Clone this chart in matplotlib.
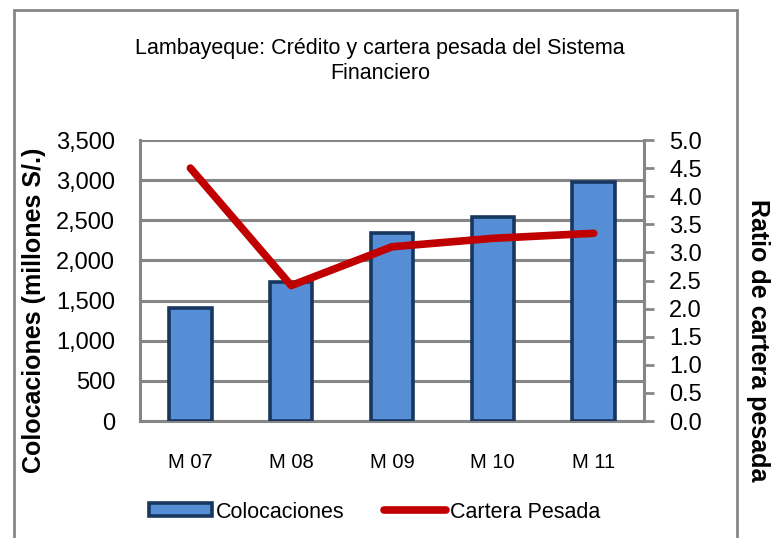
import matplotlib
matplotlib.use("Agg")
import matplotlib.pyplot as plt
from matplotlib.patches import Rectangle
from matplotlib.lines import Line2D
from matplotlib.patches import Patch

meses = ["M 07", "M 08", "M 09", "M 10", "M 11"]
colocaciones = [1410, 1730, 2340, 2540, 2975]
cartera_pesada = [4.50, 2.41, 3.10, 3.25, 3.34]

plt.rcParams['font.family'] = ['Liberation Sans', 'DejaVu Sans']
gris = "#868686"

fig = plt.figure(figsize=(7.73, 5.38), dpi=100)
# marco gris del grafico
fig.patches.append(Rectangle((14 / 773, -0.1), (737 - 14) / 773, 1.1 - 10 / 538,
                             transform=fig.transFigure, fill=False,
                             edgecolor=gris, linewidth=2))

ax = fig.add_axes([140 / 773, 117 / 538, 504 / 773, 281 / 538])
x = list(range(len(meses)))
ax.bar(x, colocaciones, width=0.42, color="#558ED5", edgecolor="#17375E",
       linewidth=2.6, zorder=3)
ax.set_xlim(-0.5, 4.5)
ax.set_ylim(0, 3500)
ax.set_yticks(range(0, 3501, 500))
ax.set_yticklabels([f"{v:,}" for v in range(0, 3501, 500)], fontsize=17)
ax.set_xticks(x)
ax.set_xticklabels(meses, fontsize=14.5)
ax.tick_params(axis='x', length=0, pad=23)
ax.tick_params(axis='y', length=0, pad=18)
ax.grid(axis='y', color=gris, linewidth=2.2, zorder=0)
for s in ['top', 'right']:
    ax.spines[s].set_visible(False)
for s in ['left', 'bottom']:
    ax.spines[s].set_color(gris)
    ax.spines[s].set_linewidth(2.2)
ax.set_ylabel("Colocaciones (millones S/.)", fontsize=18, fontweight='bold', va='center')
ax.yaxis.set_label_coords((34 - 140) / 504, (421 - 310) / 281)

ax2 = ax.twinx()
ax2.plot(x, cartera_pesada, color="#C00000", linewidth=5.5, solid_capstyle='round', zorder=4)
ax2.set_ylim(0, 5)
ax2.set_yticks([i * 0.5 for i in range(11)])
ax2.set_yticklabels([f"{i * 0.5:.1f}" for i in range(11)], fontsize=17)
ax2.tick_params(axis='y', length=7, width=2, color=gris, pad=11)
for s in ['top', 'left', 'bottom']:
    ax2.spines[s].set_visible(False)
ax2.spines['right'].set_color(gris)
ax2.spines['right'].set_linewidth(2.2)
ax2.set_ylabel("Ratio de cartera pesada", fontsize=18, fontweight='bold',
               rotation=-90, va='center')
ax2.yaxis.set_label_coords((758 - 140) / 504, (421 - 340) / 281)

fig.text(380 / 773, 1 - 61 / 538, "Lambayeque: Crédito y cartera pesada del Sistema\nFinanciero",
         ha='center', va='center', fontsize=15.5, linespacing=1.3,
         family=['Liberation Sans Narrow', 'Liberation Sans'])

handles = [Patch(facecolor="#558ED5", edgecolor="#17375E", linewidth=2.6),
           Line2D([0], [0], color="#C00000", linewidth=5.5, solid_capstyle='round')]
fig.legend(handles, ["Colocaciones", "Cartera Pesada"], loc='center',
           bbox_to_anchor=(375 / 773, 1 - 512 / 538), ncol=2, frameon=False,
           fontsize=15.5, handlelength=2.9, handleheight=0.55, columnspacing=1.8,
           handletextpad=0.2)

fig.savefig("out.png", dpi=100)
